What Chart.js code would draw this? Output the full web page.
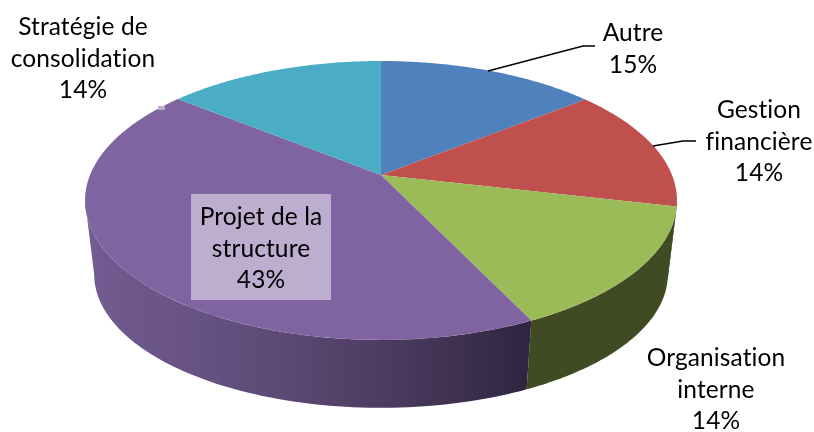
<!DOCTYPE html>
<html>
<head>
<meta charset="utf-8">
<style>
  html, body { margin: 0; padding: 0; background: #fff; }
  canvas { display: block; }
</style>
</head>
<body>
<canvas id="pieChart" width="814" height="432"></canvas>
<script src="https://cdn.jsdelivr.net/npm/chart.js@4"></script>
<script>
const categories = ["Autre", "Gestion financière", "Organisation interne", "Projet de la structure", "Stratégie de consolidation"];
// slice sizes as measured on the picture (the printed labels are rounded)
const shares = [14.3, 14.3, 14.3, 14.3 * 3, 14.2];
const percentLabels = ["15%", "14%", "14%", "43%", "14%"];
const labelLines = [["Autre"], ["Gestion", "financière"], ["Organisation", "interne"], ["Projet de la", "structure"], ["Stratégie de", "consolidation"]];
const sliceColors = ["#4f81bd", "#c0504d", "#9bbb59", "#8064a2", "#4bacc6"];

const palette = {
  text: "#000000",
  greenWall: "#414b23",
  labelBox: "#bdaed0"
};

// where each label is centred: x, y of first line
const labelAnchors = [
  { x: 633, y: 33 },
  { x: 759, y: 110 },
  { x: 716, y: 358 },
  { x: 261, y: 217 },
  { x: 83, y: 27 }
];
const lineGap = 31.7;

// Fake perspective of the Excel 3D pie: top disc and the smaller bottom disc
const topDisc = { cx: 381, cy: 175, a: 291, b: 134.8 };
const bottomDisc = { cx: 381, cy: 250, a: 282, b: 129 };
const tilt = 0.1827;

const project = (disc, angle) => {
  const u = Math.cos(angle);
  const v = Math.sin(angle);
  const w = 1 - tilt * v;
  return { x: disc.cx + (disc.a * u) / w, y: disc.cy + (disc.b * v) / w };
};

const traceRim = (ctx, disc, from, to) => {
  const steps = 80;
  for (let i = 0; i <= steps; i++) {
    const p = project(disc, from + ((to - from) * i) / steps);
    ctx.lineTo(p.x, p.y);
  }
};

const drawWall = (ctx, arc, fill) => {
  // only the part of the rim facing the viewer
  const wallStart = Math.atan2(tilt, Math.sqrt(1 - tilt * tilt));
  const wallEnd = Math.PI - wallStart;
  const from = Math.max(arc.startAngle, wallStart);
  const to = Math.min(arc.endAngle, wallEnd);
  if (to <= from) return;

  ctx.beginPath();
  traceRim(ctx, topDisc, from, to);
  traceRim(ctx, bottomDisc, to, from);
  ctx.closePath();
  ctx.fillStyle = fill;
  ctx.fill();
};

const pie3dPlugin = {
  id: "pie3dPlugin",
  beforeDatasetsDraw(chart) {
    const { ctx } = chart;
    const arcs = chart.getDatasetMeta(0).data;
    const colors = chart.data.datasets[0].backgroundColor;

    const purpleWall = ctx.createLinearGradient(90, 0, 530, 0);
    purpleWall.addColorStop(0, "#725b90");
    purpleWall.addColorStop(0.3, "#64507f");
    purpleWall.addColorStop(0.65, "#4e3d63");
    purpleWall.addColorStop(1, "#2f2540");

    ctx.save();
    drawWall(ctx, arcs[1], palette.greenWall);
    drawWall(ctx, arcs[2], palette.greenWall);
    drawWall(ctx, arcs[3], purpleWall);

    arcs.forEach((arc, i) => {
      ctx.beginPath();
      ctx.moveTo(topDisc.cx, topDisc.cy);
      traceRim(ctx, topDisc, arc.startAngle, arc.endAngle);
      ctx.closePath();
      ctx.fillStyle = colors[i];
      ctx.fill();
    });
    ctx.restore();

    // the library's flat arcs are replaced by the drawing above
    return false;
  },
  afterDraw(chart) {
    const { ctx } = chart;
    ctx.save();

    // label box of the big slice and the small leftover at its edge
    ctx.fillStyle = palette.labelBox;
    ctx.fillRect(191, 194, 140, 106);
    ctx.fillRect(158, 106, 7, 4);

    // leader lines
    ctx.strokeStyle = "#000";
    ctx.lineWidth = 1.4;
    ctx.beginPath();
    ctx.moveTo(488, 71);
    ctx.lineTo(583, 46);
    ctx.lineTo(595, 46);
    ctx.moveTo(653, 146);
    ctx.lineTo(683, 141);
    ctx.lineTo(696, 141);
    ctx.stroke();

    ctx.font = "24.5px Lato";
    ctx.letterSpacing = "0.1px"; // also stops the "ti" ligature
    ctx.fillStyle = palette.text;
    ctx.textAlign = "center";
    ctx.textBaseline = "middle";
    labelAnchors.forEach((anchor, i) => {
      const lines = [...labelLines[i], percentLabels[i]];
      lines.forEach((line, n) => {
        ctx.fillText(line, anchor.x, anchor.y + n * lineGap);
      });
    });
    ctx.restore();
  }
};

new Chart(document.getElementById("pieChart"), {
  type: "pie",
  data: {
    labels: categories,
    datasets: [
      {
        data: shares,
        backgroundColor: sliceColors,
        borderWidth: 0
      }
    ]
  },
  options: {
    responsive: false,
    animation: false,
    plugins: {
      legend: { display: false },
      tooltip: { enabled: false }
    }
  },
  plugins: [pie3dPlugin]
});
</script>
</body>
</html>
